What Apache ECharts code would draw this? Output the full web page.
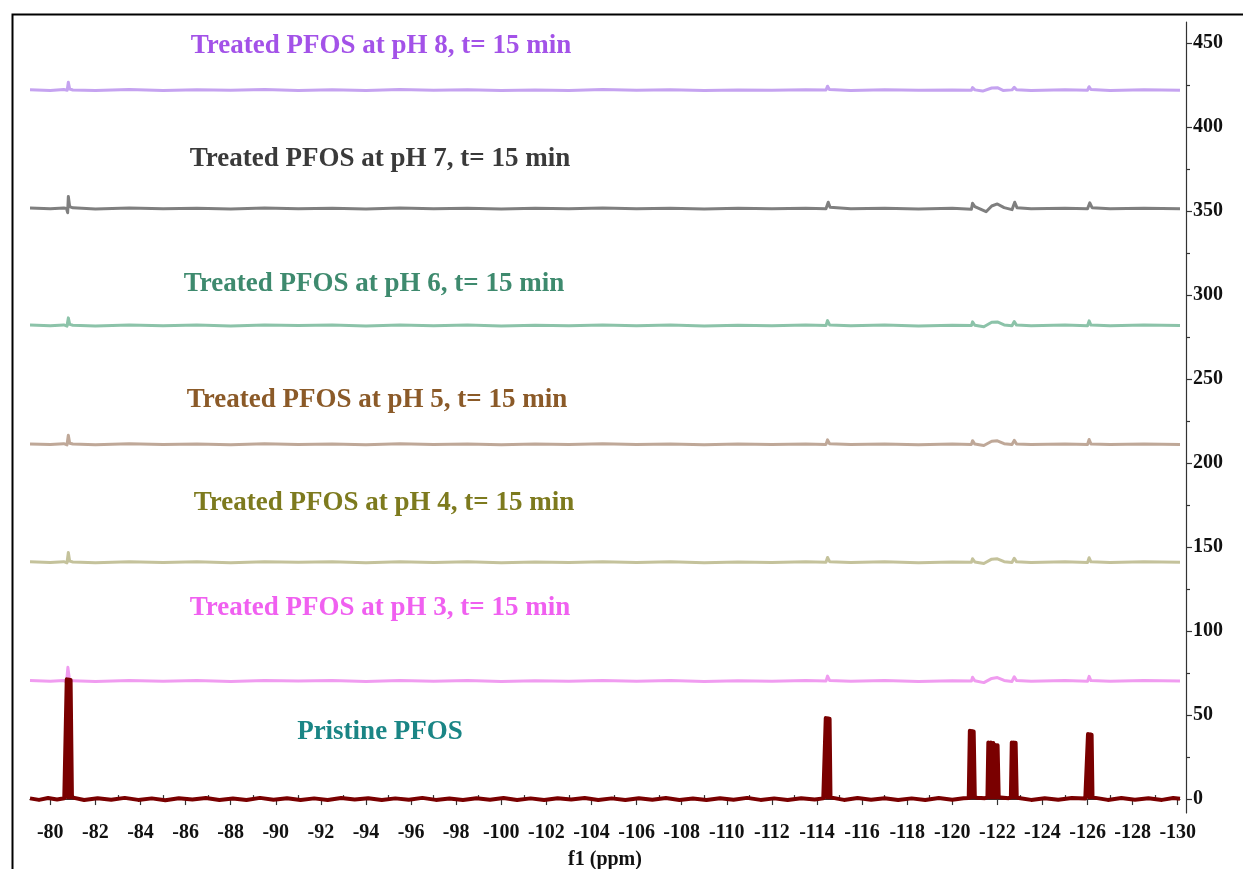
<!DOCTYPE html>
<html><head><meta charset="utf-8">
<script src="https://cdn.jsdelivr.net/npm/echarts@6/dist/echarts.min.js"></script>
<style>html,body{margin:0;padding:0;background:#fff;overflow:hidden}#c{width:1243px;height:869px}</style>
</head><body><div id="c"></div><script>
// ---- data (ppm, intensity) ----
var xTicks = [-80,-82,-84,-86,-88,-90,-92,-94,-96,-98,-100,-102,-104,-106,-108,-110,-112,-114,-116,-118,-120,-122,-124,-126,-128,-130];
var xMinorTicks = [-81,-83,-85,-87,-89,-91,-93,-95,-97,-99,-101,-103,-105,-107,-109,-111,-113,-115,-117,-119,-121,-123,-125,-127,-129];
var yTicks = [0,50,100,150,200,250,300,350,400,450];
var yMinorTicks = [25,75,125,175,225,275,325,375,425];

var pristine = [
[-79.1,0.4],[-79.5,-0.5],[-79.9,0.6],[-80.3,-0.3],[-80.62,0.5],[-80.69,1],[-80.73,71.3],[-80.78,1],[-80.82,71.1],[-80.86,1],[-80.9,70.8],[-80.96,1],[-81.03,0.3],
[-81.5,-0.6],[-82.1,0.5],[-82.7,-0.4],[-83.3,0.7],[-83.9,-0.5],[-84.5,0.4],[-85.1,-0.7],[-85.7,0.5],[-86.3,-0.3],[-86.9,0.6],
[-87.5,-0.5],[-88.1,0.3],[-88.7,-0.6],[-89.3,0.7],[-89.9,-0.4],[-90.5,0.5],[-91.1,-0.5],[-91.7,0.4],[-92.3,-0.6],[-92.9,0.6],
[-93.5,-0.3],[-94.1,0.5],[-94.7,-0.6],[-95.3,0.4],[-95.9,-0.4],[-96.5,0.7],[-97.1,-0.5],[-97.7,0.3],[-98.3,-0.6],[-98.9,0.5],
[-99.5,-0.4],[-100.1,0.6],[-100.7,-0.5],[-101.3,0.4],[-101.9,-0.6],[-102.5,0.5],[-103.1,-0.3],[-103.7,0.6],[-104.3,-0.5],[-104.9,0.4],
[-105.5,-0.6],[-106.1,0.5],[-106.7,-0.4],[-107.3,0.6],[-107.9,-0.5],[-108.5,0.3],[-109.1,-0.6],[-109.7,0.5],[-110.3,-0.4],[-110.9,0.7],
[-111.5,-0.5],[-112.1,0.4],[-112.7,-0.6],[-113.3,0.5],[-113.9,-0.3],[-114.28,0.4],[-114.35,1],[-114.39,48.2],[-114.44,1],[-114.48,48.1],[-114.52,1],[-114.56,47.8],[-114.6,1],
[-114.68,0.4],[-115.2,-0.5],[-115.8,0.6],[-116.4,-0.4],[-117.0,0.5],[-117.6,-0.6],[-118.2,0.4],[-118.8,-0.5],[-119.4,0.6],[-120.0,-0.4],
[-120.5,0.5],[-120.73,0.6],[-120.78,40.7],[-120.83,1],[-120.87,40.5],[-120.91,1],[-120.95,40.2],[-121.0,1],[-121.1,0.8],[-121.45,0.5],[-121.56,1],
[-121.6,33.7],[-121.66,1],[-121.71,33.6],[-121.77,1],[-121.82,33.4],[-121.87,1],[-121.91,32.2],[-121.96,1],[-122.01,32],[-122.06,1],
[-122.15,0.9],[-122.5,0.5],[-122.6,1],[-122.64,33.7],[-122.69,1],[-122.73,33.6],[-122.77,1],[-122.81,33.5],[-122.86,1],[-122.95,0.6],
[-123.5,-0.5],[-124.1,0.5],[-124.7,-0.4],[-125.3,0.6],[-125.9,0.3],[-125.98,1],[-126.02,38.7],[-126.07,1],[-126.11,38.5],[-126.15,1],[-126.18,38.3],[-126.22,1],[-126.3,0.4],
[-126.9,-0.5],[-127.5,0.6],[-128.1,-0.4],[-128.7,0.5],[-129.3,-0.5],[-129.8,0.6],[-130.1,0.2]
];

var pH3 = [
[-79.1,70.5],[-80.0,70.1],[-80.6,70.6],[-80.72,69.6],[-80.78,78.4],[-80.85,71.2],[-81.0,70.4],[-82.0,70.0],[-83.5,70.6],[-85,70.1],
[-86.5,70.5],[-88,70.0],[-89.5,70.6],[-91,70.2],[-92.5,70.5],[-94,70.0],[-95.5,70.6],[-97,70.1],[-98.5,70.5],[-100,70.0],
[-101.5,70.4],[-103,70.1],[-104.5,70.6],[-106,70.1],[-107.5,70.5],[-109,70.0],[-110.5,70.4],[-112,70.1],[-113.5,70.5],[-114.4,70.2],
[-114.47,73.2],[-114.56,70.6],[-115.5,70.1],[-117,70.5],[-118.5,70.0],[-120,70.4],[-120.85,70.2],[-120.9,72.5],[-121.0,70.4],[-121.4,69.3],
[-121.75,71.8],[-122.0,72.3],[-122.3,70.6],[-122.65,70.0],[-122.75,72.8],[-122.85,70.5],[-123.5,70.1],[-125,70.5],[-126.0,70.1],[-126.07,73.0],
[-126.15,70.5],[-127,70.1],[-128.5,70.5],[-130.1,70.2]
];

var pH4 = [
[-79.1,141.2],[-80.0,140.8],[-80.6,141.3],[-80.74,140.6],[-80.8,146.8],[-80.86,141.6],[-81.0,141.1],[-82.0,140.7],[-83.5,141.3],[-85,140.8],
[-86.5,141.2],[-88,140.7],[-89.5,141.3],[-91,140.9],[-92.5,141.2],[-94,140.7],[-95.5,141.3],[-97,140.8],[-98.5,141.2],[-100,140.7],
[-101.5,141.1],[-103,140.8],[-104.5,141.3],[-106,140.8],[-107.5,141.2],[-109,140.7],[-110.5,141.1],[-112,140.8],[-113.5,141.2],[-114.4,140.9],
[-114.47,143.8],[-114.56,141.3],[-115.5,140.8],[-117,141.2],[-118.5,140.7],[-120,141.1],[-120.85,140.9],[-120.9,143.0],[-121.0,141.1],[-121.4,140.2],
[-121.75,142.8],[-122.0,143.0],[-122.3,141.3],[-122.65,140.8],[-122.75,143.3],[-122.85,141.2],[-123.5,140.8],[-125,141.2],[-126.0,140.8],[-126.07,143.6],
[-126.15,141.2],[-127,140.8],[-128.5,141.2],[-130.1,140.9]
];

var pH5 = [
[-79.1,211.4],[-80.0,211.0],[-80.6,211.5],[-80.74,210.8],[-80.8,216.5],[-80.86,211.8],[-81.0,211.3],[-82.0,210.9],[-83.5,211.5],[-85,211.0],
[-86.5,211.4],[-88,210.9],[-89.5,211.5],[-91,211.1],[-92.5,211.4],[-94,210.9],[-95.5,211.5],[-97,211.0],[-98.5,211.4],[-100,210.9],
[-101.5,211.3],[-103,211.0],[-104.5,211.5],[-106,211.0],[-107.5,211.4],[-109,210.9],[-110.5,211.3],[-112,211.0],[-113.5,211.4],[-114.4,211.1],
[-114.47,213.8],[-114.56,211.5],[-115.5,211.0],[-117,211.4],[-118.5,210.9],[-120,211.3],[-120.85,211.1],[-120.9,213.3],[-121.0,211.3],[-121.4,210.4],
[-121.75,213.0],[-122.0,213.2],[-122.3,211.5],[-122.65,211.0],[-122.75,213.5],[-122.85,211.4],[-123.5,211.0],[-125,211.4],[-126.0,211.0],[-126.07,214.0],
[-126.15,211.4],[-127,211.0],[-128.5,211.4],[-130.1,211.1]
];

var pH6 = [
[-79.1,282.1],[-80.0,281.7],[-80.6,282.2],[-80.74,281.5],[-80.8,286.4],[-80.86,282.5],[-81.0,282.0],[-82.0,281.6],[-83.5,282.2],[-85,281.7],
[-86.5,282.1],[-88,281.6],[-89.5,282.2],[-91,281.8],[-92.5,282.1],[-94,281.6],[-95.5,282.2],[-97,281.7],[-98.5,282.1],[-100,281.6],
[-101.5,282.0],[-103,281.7],[-104.5,282.2],[-106,281.7],[-107.5,282.1],[-109,281.6],[-110.5,282.0],[-112,281.7],[-113.5,282.1],[-114.4,281.8],
[-114.47,284.8],[-114.56,282.2],[-115.5,281.7],[-117,282.1],[-118.5,281.6],[-120,282.0],[-120.85,281.8],[-120.9,284.0],[-121.0,282.0],[-121.4,281.1],
[-121.75,283.8],[-122.0,284.0],[-122.3,282.2],[-122.65,281.7],[-122.75,284.2],[-122.85,282.1],[-123.5,281.7],[-125,282.1],[-126.0,281.7],[-126.07,284.6],
[-126.15,282.1],[-127,281.7],[-128.5,282.1],[-130.1,281.8]
];

var pH7 = [
[-79.1,351.8],[-80.0,351.3],[-80.6,351.8],[-80.72,351.5],[-80.77,349.0],[-80.8,358.6],[-80.86,352.6],[-81.0,351.9],[-82.0,351.2],[-83.5,351.8],
[-85,351.3],[-86.5,351.7],[-88,351.2],[-89.5,351.8],[-91,351.4],[-92.5,351.7],[-94,351.2],[-95.5,351.8],[-97,351.3],[-98.5,351.7],
[-100,351.2],[-101.5,351.6],[-103,351.3],[-104.5,351.8],[-106,351.3],[-107.5,351.7],[-109,351.2],[-110.5,351.6],[-112,351.3],[-113.5,351.7],
[-114.4,351.4],[-114.45,350.4],[-114.5,355.2],[-114.58,352.2],[-115.5,351.3],[-117,351.7],[-118.5,351.2],[-120,351.6],[-120.85,351.0],[-120.9,354.6],
[-121.0,352.6],[-121.5,349.6],[-121.75,353.0],[-122.0,354.2],[-122.3,352.0],[-122.65,350.8],[-122.72,351.0],[-122.77,355.2],[-122.87,352.0],[-123.5,351.3],
[-125,351.7],[-126.0,351.3],[-126.05,350.6],[-126.1,354.9],[-126.2,352.0],[-127,351.3],[-128.5,351.7],[-130.1,351.4]
];

var pH8 = [
[-79.1,422.2],[-80.0,421.8],[-80.6,422.3],[-80.75,421.9],[-80.8,426.6],[-80.86,422.6],[-81.0,422.0],[-82.0,421.7],[-83.5,422.3],[-85,421.8],
[-86.5,422.2],[-88,421.9],[-89.5,422.3],[-91,421.7],[-92.5,422.2],[-94,421.8],[-95.5,422.3],[-97,421.9],[-98.5,422.2],[-100,421.7],
[-101.5,422.1],[-103,421.8],[-104.5,422.3],[-106,421.9],[-107.5,422.2],[-109,421.7],[-110.5,422.1],[-112,421.9],[-113.5,422.2],[-114.4,422.0],
[-114.47,424.3],[-114.55,422.3],[-115.5,421.8],[-117,422.2],[-118.5,421.9],[-120,422.1],[-120.85,421.9],[-120.9,423.5],[-121.0,422.1],[-121.35,421.4],
[-121.75,423.2],[-122.0,423.4],[-122.25,421.8],[-122.65,422.1],[-122.75,423.6],[-122.85,422.2],[-123.5,421.8],[-125,422.2],[-126.0,421.9],[-126.07,424.0],
[-126.15,422.3],[-127,421.8],[-128.5,422.2],[-130.1,421.9]
];

var labels = [
  {text:'Treated PFOS at pH 8, t= 15 min', color:'#a352e8', x:381, y:46},
  {text:'Treated PFOS at pH 7, t= 15 min', color:'#3a3a3a', x:380, y:159},
  {text:'Treated PFOS at pH 6, t= 15 min', color:'#3e8a6e', x:374, y:284},
  {text:'Treated PFOS at pH 5, t= 15 min', color:'#8b5a28', x:377, y:400},
  {text:'Treated PFOS at pH 4, t= 15 min', color:'#7d7a1e', x:384, y:503},
  {text:'Treated PFOS at pH 3, t= 15 min', color:'#f060f0', x:380, y:608},
  {text:'Pristine PFOS', color:'#1a8585', x:380, y:732}
];

var seriesDefs = [
  {name:'pH 8', data:pH8, color:'#c5a3f0', w:3},
  {name:'pH 7', data:pH7, color:'#7f7f7f', w:3},
  {name:'pH 6', data:pH6, color:'#8cc3a9', w:3},
  {name:'pH 5', data:pH5, color:'#bfa898', w:3},
  {name:'pH 4', data:pH4, color:'#c4c29b', w:3},
  {name:'pH 3', data:pH3, color:'#f09cf0', w:3},
  {name:'Pristine', data:pristine, color:'#7a0000', w:4}
];

var FONT = '"Liberation Serif", "Times New Roman", serif';
var chart = echarts.init(document.getElementById('c'), null, {renderer:'canvas'});

var xBase = {type:'value', inverse:true, min:-130.1, max:-79.1, splitLine:{show:false}};
var yBase = {type:'value', position:'right', offset:6, min:-8.3, max:462.5, splitLine:{show:false}};

var option = {
  backgroundColor:'#fff',
  animation:false,
  grid:{left:30, right:63, top:22, bottom:56, containLabel:false, outerBoundsMode:'none'},
  xAxis:[
    Object.assign({}, xBase, {
      axisLine:{show:true, lineStyle:{color:'#333', width:1.2}},
      axisTick:{show:true, length:6, customValues:xTicks, lineStyle:{color:'#333', width:1.2}},
      axisLabel:{show:true, customValues:xTicks, margin:10, color:'#111', fontFamily:FONT, fontWeight:'bold', fontSize:20},
      name:'f1 (ppm)', nameLocation:'middle', nameGap:37,
      nameTextStyle:{color:'#111', fontFamily:FONT, fontWeight:'bold', fontSize:20}
    }),
    Object.assign({}, xBase, {
      axisLine:{show:false},
      axisTick:{show:true, length:4, customValues:xMinorTicks, lineStyle:{color:'#333', width:1.2}},
      axisLabel:{show:false}
    })
  ],
  yAxis:[
    Object.assign({}, yBase, {
      axisLine:{show:true, lineStyle:{color:'#333', width:1.2}},
      axisTick:{show:true, length:6, customValues:yTicks, lineStyle:{color:'#333', width:1.2}},
      axisLabel:{show:true, customValues:yTicks, margin:7, color:'#111', fontFamily:FONT, fontWeight:'bold', fontSize:20}
    }),
    Object.assign({}, yBase, {
      axisLine:{show:false},
      axisTick:{show:true, length:4, customValues:yMinorTicks, lineStyle:{color:'#333', width:1.2}},
      axisLabel:{show:false}
    })
  ],
  series: seriesDefs.map(function(s){
    return {name:s.name, type:'line', xAxisIndex:0, yAxisIndex:0, data:s.data, showSymbol:false, symbol:'none',
      lineStyle:{color:s.color, width:s.w, join:'round'}, itemStyle:{color:s.color}, clip:true};
  }),
  graphic: [
    {type:'rect', left:10, top:12, shape:{x:0,y:0,width:1260,height:880}, style:{fill:'none', stroke:'#000', lineWidth:2}, silent:true, z:-1}
  ].concat(labels.map(function(l){
    return {type:'text', x:l.x, y:l.y, z:100,
      style:{text:l.text, fill:l.color, font:'bold 27px ' + FONT, textAlign:'center', textVerticalAlign:'middle'}};
  }))
};
chart.setOption(option);
</script></body></html>
